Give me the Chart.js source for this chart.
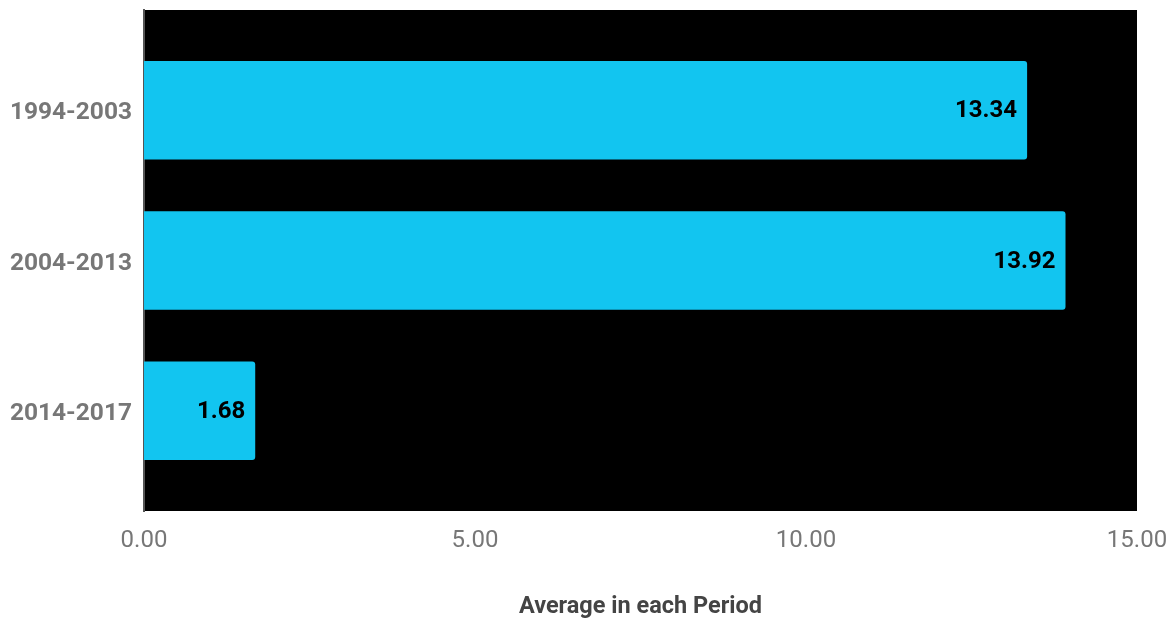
<!DOCTYPE html>
<html>
<head>
<meta charset="utf-8">
<script src="https://cdn.jsdelivr.net/npm/chart.js@4/dist/chart.umd.min.js"></script>
<style>
  html, body { margin: 0; padding: 0; background: #fff; }
  #wrap { width: 1174px; height: 619px; }
</style>
</head>
<body>
<div id="wrap"><canvas id="c" width="1174" height="619"></canvas></div>
<script>
const periods = ['1994-2003', '2004-2013', '2014-2017'];
const averages = [13.34, 13.92, 1.68];
const axisTitle = 'Average in each Period';

// Paints the plot area black behind the bars
const plotBackground = {
  id: 'plotBackground',
  beforeDraw(chart) {
    const { ctx, chartArea: a } = chart;
    ctx.save();
    ctx.fillStyle = '#000000';
    ctx.fillRect(a.left, a.top, a.right - a.left, a.bottom - a.top);
    ctx.restore();
  }
};

// Writes each value just inside the end of its bar
const valueLabels = {
  id: 'valueLabels',
  afterDatasetsDraw(chart) {
    const { ctx } = chart;
    const meta = chart.getDatasetMeta(0);
    ctx.save();
    ctx.font = 'bold 24px Roboto';
    ctx.fillStyle = '#000000';
    ctx.textAlign = 'right';
    ctx.textBaseline = 'middle';
    meta.data.forEach((bar, i) => {
      const v = chart.data.datasets[0].data[i];
      ctx.fillText(v.toFixed(2), bar.x - 10, bar.y + 1);
    });
    ctx.restore();
  }
};

// Extra room above the first and below the last category (in category units)
const categoryMargin = 1 / 6;

new Chart(document.getElementById('c'), {
  type: 'bar',
  data: {
    labels: periods,
    datasets: [{
      data: averages,
      backgroundColor: '#12C5F0',
      borderWidth: 0,
      borderRadius: { topRight: 3, bottomRight: 3 },
      borderSkipped: 'left',
      barPercentage: 0.82,
      categoryPercentage: 0.8
    }]
  },
  options: {
    indexAxis: 'y',
    responsive: false,
    animation: false,
    layout: { padding: { top: 10, right: 37, left: 0, bottom: 0 } },
    plugins: { legend: { display: false }, tooltip: { enabled: false } },
    scales: {
      x: {
        min: 0,
        max: 15,
        ticks: {
          stepSize: 5,
          padding: 16,
          color: '#777777',
          font: { family: 'Roboto', size: 24 },
          callback: (v) => Number(v).toFixed(2)
        },
        grid: { display: false, drawTicks: false },
        border: { display: false },
        title: {
          display: true,
          text: axisTitle,
          color: '#444444',
          font: { family: 'Roboto', size: 23.5, weight: 'bold' },
          padding: { top: 37, bottom: -2 }
        },
        afterFit(scale) {
          scale.height = 108;
          scale.paddingLeft = 0;
          scale.paddingRight = 0;
        }
      },
      y: {
        ticks: {
          padding: 12,
          labelOffset: 3,
          color: '#777777',
          font: { family: 'Roboto', size: 24.5, weight: 'bold' }
        },
        grid: { display: false, drawTicks: false },
        border: { display: true, color: '#555555', width: 2 },
        afterBuildTicks(scale) {
          scale._startValue -= categoryMargin;
          scale._valueRange += 2 * categoryMargin;
        },
        afterFit(scale) {
          scale.width = 144;
          scale.paddingTop = 0;
          scale.paddingBottom = 0;
        }
      }
    }
  },
  plugins: [plotBackground, valueLabels]
});
</script>
</body>
</html>
